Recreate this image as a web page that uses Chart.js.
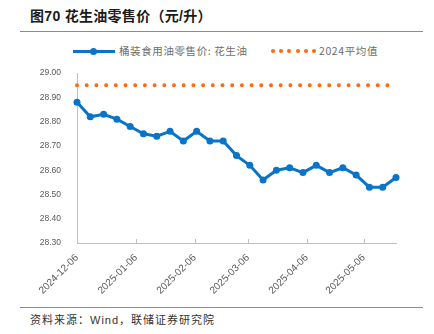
<!DOCTYPE html>
<html>
<head>
<meta charset="utf-8">
<script src="https://cdn.jsdelivr.net/npm/chart.js@4"></script>
<style>
  body { margin: 0; width: 434px; height: 334px; background: #fff; position: relative; overflow: hidden;
         font-family: "Liberation Sans", "Noto Sans CJK SC", sans-serif; }
  #title { position: absolute; left: 30px; top: 5px; font-size: 14px; font-weight: bold; color: #1a1a1a;
           font-family: "Liberation Sans", "Noto Sans CJK SC", sans-serif; white-space: nowrap; letter-spacing: 0.3px; }
  .rule { position: absolute; left: 20px; width: 403px; height: 1px; background: #8c8c8c; }
  #legend { position: absolute; top: 43px; left: 0; width: 434px; height: 16px; font-size: 10.5px; color: #6e6e6e;
            font-family: "Noto Sans CJK SC", sans-serif; letter-spacing: 0.6px; }
  #legend span { position: absolute; white-space: nowrap; }
  #source { position: absolute; left: 30px; top: 311px; font-size: 11px; color: #333; letter-spacing: 1px;
            font-family: "Liberation Sans", "Noto Sans CJK SC", sans-serif; white-space: nowrap; }
  #wrap { position: absolute; left: 0; top: 60px; width: 434px; height: 245px; }
</style>
</head>
<body>
<div id="title">图70 花生油零售价（元/升）</div>
<div class="rule" style="top:31px"></div>
<div id="legend">
  <span style="left:73px;top:7px;width:42px;height:3px;background:#0a74c9"></span>
  <span style="left:90px;top:5px;width:7px;height:7px;border-radius:50%;background:#0a74c9"></span>
  <span style="left:119px;top:0px">桶装食用油零售价: 花生油</span>
  <span id="odots" style="left:271px;top:6px"></span>
  <span style="left:319px;top:0px">2024平均值</span>
</div>
<div id="wrap"><canvas id="chart"></canvas></div>
<div class="rule" style="top:307px"></div>
<div id="source">资料来源：Wind，联储证券研究院</div>

<script>
// weekly dates and prices
const dates = ['2024-12-06','2024-12-13','2024-12-20','2024-12-27','2025-01-03','2025-01-10','2025-01-17',
  '2025-01-24','2025-01-31','2025-02-07','2025-02-14','2025-02-21','2025-02-28','2025-03-07','2025-03-14',
  '2025-03-21','2025-03-28','2025-04-04','2025-04-11','2025-04-18','2025-04-25','2025-05-02','2025-05-09',
  '2025-05-16','2025-05-23'];
const peanutOil = [28.88, 28.82, 28.83, 28.81, 28.78, 28.75, 28.74, 28.76, 28.72, 28.76, 28.72, 28.72,
  28.66, 28.62, 28.56, 28.60, 28.61, 28.59, 28.62, 28.59, 28.61, 28.58, 28.53, 28.53, 28.57];
const avg2024 = 28.95;
const tickLabels = ['2024-12-06','2025-01-06','2025-02-06','2025-03-06','2025-04-06','2025-05-06'];
const yTicks = [28.30, 28.40, 28.50, 28.60, 28.70, 28.80, 28.90, 29.00];

// legend dots
let dotsHtml = '';
for (let i = 0; i < 6; i++) {
  dotsHtml += '<i style="position:absolute;left:' + (i * 8.2) + 'px;top:0;width:4px;height:4px;border-radius:50%;background:#ff6a10"></i>';
}
document.getElementById('odots').innerHTML = dotsHtml;

const day0 = Date.parse(dates[0]);
const toDay = d => Math.round((Date.parse(d) - day0) / 86400000);
const lastDay = toDay(dates[dates.length - 1]);

const mainData = dates.map((d, i) => ({ x: toDay(d), y: peanutOil[i] }));
const avgData = [{ x: 0, y: avg2024 }, { x: lastDay, y: avg2024 }];

// small tick marks pointing up into the plot
const upTicks = {
  id: 'upTicks',
  afterDraw(chart) {
    const sx = chart.scales.x;
    const c = chart.ctx;
    c.save();
    c.strokeStyle = '#bfbfbf';
    c.lineWidth = 1;
    tickLabels.forEach(t => {
      const px = Math.round(sx.getPixelForValue(toDay(t))) + 0.5;
      c.beginPath();
      c.moveTo(px, sx.top);
      c.lineTo(px, sx.top - 4);
      c.stroke();
    });
    c.restore();
  }
};

const ctx = document.getElementById('chart');
new Chart(ctx, {
  type: 'line',
  data: {
    datasets: [{
      label: '桶装食用油零售价: 花生油',
      data: mainData,
      borderColor: '#0a74c9',
      backgroundColor: '#0a74c9',
      borderWidth: 3,
      pointRadius: 3.5,
      pointBorderWidth: 0,
      tension: 0,
      clip: false
    }, {
      label: '2024平均值',
      data: avgData,
      borderColor: '#ff6a10',
      borderWidth: 4,
      borderDash: [0, 9.7],
      borderCapStyle: 'round',
      pointRadius: 0,
      clip: false
    }]
  },
  options: {
    responsive: true,
    maintainAspectRatio: false,
    animation: false,
    layout: { padding: { left: 0, right: 38, top: 0, bottom: 0 } },
    plugins: { legend: { display: false }, tooltip: { enabled: false } },
    scales: {
      x: {
        type: 'linear',
        min: 0,
        max: lastDay,
        grid: { display: false },
        border: { color: '#bfbfbf', width: 1 },
        afterBuildTicks: axis => { axis.ticks = tickLabels.map(t => ({ value: toDay(t) })); },
        afterFit: axis => { axis.height = 62; },
        ticks: {
          autoSkip: false,
          minRotation: 45,
          maxRotation: 45,
          padding: 1,
          color: '#595959',
          font: { family: 'Liberation Sans', size: 10 },
          callback: v => tickLabels.find(t => toDay(t) === v) || ''
        }
      },
      y: {
        min: 28.3,
        max: 29.0,
        grid: { display: false },
        border: { color: '#bfbfbf', width: 1 },
        afterBuildTicks: axis => { axis.ticks = yTicks.map(v => ({ value: v })); },
        afterFit: axis => { axis.width = 77; },
        ticks: {
          padding: 8,
          color: '#595959',
          font: { family: 'Liberation Sans', size: 8.5 },
          callback: v => Number(v).toFixed(2)
        }
      }
    }
  },
  plugins: [upTicks]
});
</script>
</body>
</html>
